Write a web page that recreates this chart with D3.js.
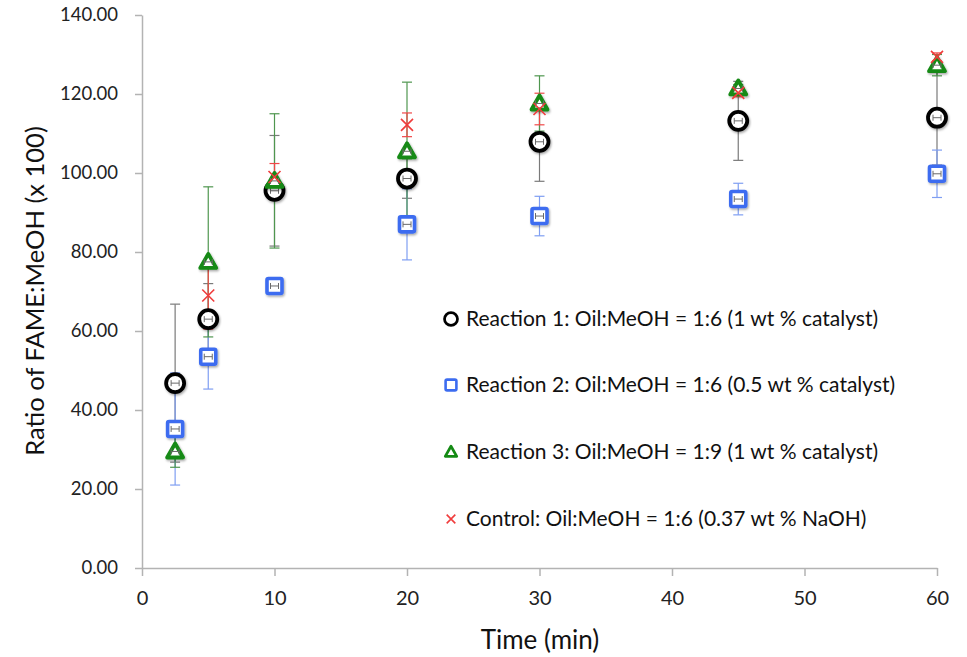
<!DOCTYPE html>
<html>
<head>
<meta charset="utf-8">
<script src="https://cdn.jsdelivr.net/npm/d3@7"></script>
<style>
  body { margin: 0; background: #fff; }
  svg { font-family: Lato, "Open Sans", sans-serif; }
</style>
</head>
<body>
<svg id="chart" width="967" height="657"></svg>
<script>
// sampling times (min)
var times = [2.5, 5, 10, 20, 30, 45, 60];

// Reaction 1: Oil:MeOH = 1:6 (1 wt % catalyst)
var r1 = [46.8, 63.0, 95.5, 98.6, 107.9, 113.2, 114.0];
var r1Err = [20.0, 9.0, 14.0, 5.0, 10.0, 10.0, 12.0];
// Reaction 2: Oil:MeOH = 1:6 (0.5 wt % catalyst)
var r2 = [35.2, 53.5, 71.4, 87.0, 89.1, 93.4, 99.8];
var r2Err = [14.2, 8.2, 1.0, 9.0, 5.0, 4.0, 6.0];
// Reaction 3: Oil:MeOH = 1:9 (1 wt % catalyst)
var r3 = [29.5, 77.5, 98.0, 105.5, 117.6, 121.4, 127.3];
var r3Err = [4.0, 19.0, 17.0, 17.5, 7.0, 1.0, 2.7];
// Control: Oil:MeOH = 1:6 (0.37 wt % NaOH)
var ctrl = [null, 69.0, 99.0, 112.2, 116.2, 120.3, 129.4];
var ctrlErr = [null, 8.5, 3.4, 3.0, 4.0, 1.0, 1.0];

var xTicks = [0, 10, 20, 30, 40, 50, 60];
var yTicks = [0, 20, 40, 60, 80, 100, 120, 140];

var series = [
    { name: "Reaction 1: Oil:MeOH = 1:6 (1 wt % catalyst)", vals: r1, err: r1Err, shape: "circle", color: "#000000", errColor: "#7a7a7a" },
    { name: "Reaction 2: Oil:MeOH = 1:6 (0.5 wt % catalyst)", vals: r2, err: r2Err, shape: "square", color: "#3c6cf0", errColor: "#7f9ef2" },
    { name: "Reaction 3: Oil:MeOH = 1:9 (1 wt % catalyst)", vals: r3, err: r3Err, shape: "triangle", color: "#148a14", errColor: "#4f964f" },
    { name: "Control: Oil:MeOH = 1:6 (0.37 wt % NaOH)", vals: ctrl, err: ctrlErr, shape: "cross", color: "#f03c3c", errColor: "#f04848" }
];

var svg = d3.select("#chart");

var defs = svg.append("defs");
var f = defs.append("filter").attr("id", "shadow")
    .attr("x", "-50%").attr("y", "-50%").attr("width", "200%").attr("height", "200%");
f.append("feDropShadow").attr("dx", 1).attr("dy", 1.5).attr("stdDeviation", 1.2)
    .attr("flood-color", "#000").attr("flood-opacity", 0.35);

var x = d3.scaleLinear().domain([0, 60]).range([142, 937]);
var y = d3.scaleLinear().domain([0, 140]).range([568, 15]);

// axes
var xAxis = svg.append("g")
    .attr("transform", "translate(0," + y(0) + ")")
    .call(d3.axisBottom(x).tickValues(xTicks).tickSize(8).tickSizeOuter(0).tickPadding(15));
var yAxis = svg.append("g")
    .attr("transform", "translate(" + x(0) + ",0)")
    .call(d3.axisLeft(y).tickValues(yTicks).tickFormat(d3.format(".2f")).tickSize(7).tickSizeOuter(0).tickPadding(17));

[xAxis, yAxis].forEach(function (a) {
    a.select(".domain").attr("stroke", "#b3b3b3").attr("stroke-width", 1.5);
    a.selectAll(".tick line").attr("stroke", "#b3b3b3").attr("stroke-width", 1.5);
    a.selectAll(".tick text").attr("fill", "#222").attr("font-family", "Lato, sans-serif");
});
xAxis.selectAll(".tick text").attr("font-size", 20);
yAxis.selectAll(".tick text").attr("font-size", 18.5);

svg.append("text")
    .attr("x", 540).attr("y", 649)
    .attr("text-anchor", "middle")
    .attr("font-size", 26)
    .attr("fill", "#111")
    .text("Time (min)");

svg.append("text")
    .attr("transform", "translate(44," + 291 + ") rotate(-90)")
    .attr("text-anchor", "middle")
    .attr("font-size", 25.5)
    .attr("fill", "#111")
    .text("Ratio of FAME:MeOH (x 100)");

// points table
function pts(s) {
    return times.map(function (t, i) { return { t: t, v: s.vals[i], e: s.err[i] }; })
        .filter(function (d) { return d.v != null; });
}

// error bars
series.forEach(function (s) {
    var g = svg.append("g").attr("stroke", s.errColor).attr("stroke-width", 1.2);
    pts(s).forEach(function (d) {
        var cx = x(d.t), top = y(d.v + d.e), bot = y(d.v - d.e);
        g.append("line").attr("x1", cx).attr("x2", cx).attr("y1", top).attr("y2", bot);
        g.append("line").attr("x1", cx - 5).attr("x2", cx + 5).attr("y1", top).attr("y2", top);
        g.append("line").attr("x1", cx - 5).attr("x2", cx + 5).attr("y1", bot).attr("y2", bot);
    });
});

function drawMarker(g, shape, color, cx, cy, k) {
    if (shape == "circle") {
        g.append("circle").attr("cx", cx).attr("cy", cy).attr("r", 9 * k)
            .attr("fill", "#fff").attr("stroke", color).attr("stroke-width", 3.8 * k);
    } else if (shape == "square") {
        g.append("rect").attr("x", cx - 7.5 * k).attr("y", cy - 7.5 * k).attr("width", 15 * k).attr("height", 15 * k)
            .attr("rx", 1.5).attr("fill", "#fff").attr("stroke", color).attr("stroke-width", 3.6 * k);
    } else if (shape == "triangle") {
        var h = 8 * k;
        g.append("path")
            .attr("d", "M" + cx + "," + (cy - h) + "L" + (cx + h) + "," + (cy + h * 0.75) + "L" + (cx - h) + "," + (cy + h * 0.75) + "Z")
            .attr("fill", "#fff").attr("stroke", color).attr("stroke-width", 3.8 * k).attr("stroke-linejoin", "round");
    } else {
        var r = 6 * k;
        g.append("path")
            .attr("d", "M" + (cx - r) + "," + (cy - r) + "L" + (cx + r) + "," + (cy + r) + "M" + (cx + r) + "," + (cy - r) + "L" + (cx - r) + "," + (cy + r))
            .attr("fill", "none").attr("stroke", color).attr("stroke-width", 1.6);
    }
}

// markers with tiny horizontal error bars inside
series.forEach(function (s) {
    var g = svg.append("g");
    pts(s).forEach(function (d) {
        var cx = x(d.t), cy = y(d.v);
        var m = g.append("g").attr("filter", s.shape == "cross" ? null : "url(#shadow)");
        drawMarker(m, s.shape, s.color, cx, cy, 1);
        if (s.shape != "cross") {
            g.append("path")
                .attr("d", "M" + (cx - 4) + "," + cy + "L" + (cx + 4) + "," + cy +
                    "M" + (cx - 4) + "," + (cy - 3) + "L" + (cx - 4) + "," + (cy + 3) +
                    "M" + (cx + 4) + "," + (cy - 3) + "L" + (cx + 4) + "," + (cy + 3))
                .attr("stroke", "#6a6a6a").attr("stroke-width", 1).attr("fill", "none");
        }
    });
});

// legend
var legendY = [319, 385, 452, 519];
var legend = svg.append("g");
series.forEach(function (s, i) {
    drawMarker(legend, s.shape, s.color, 451, legendY[i], 0.72);
    legend.append("text")
        .attr("x", 466).attr("y", legendY[i])
        .attr("dy", "0.35em")
        .attr("font-size", 21)
        .attr("fill", "#111")
        .text(s.name);
});
</script>
</body>
</html>
